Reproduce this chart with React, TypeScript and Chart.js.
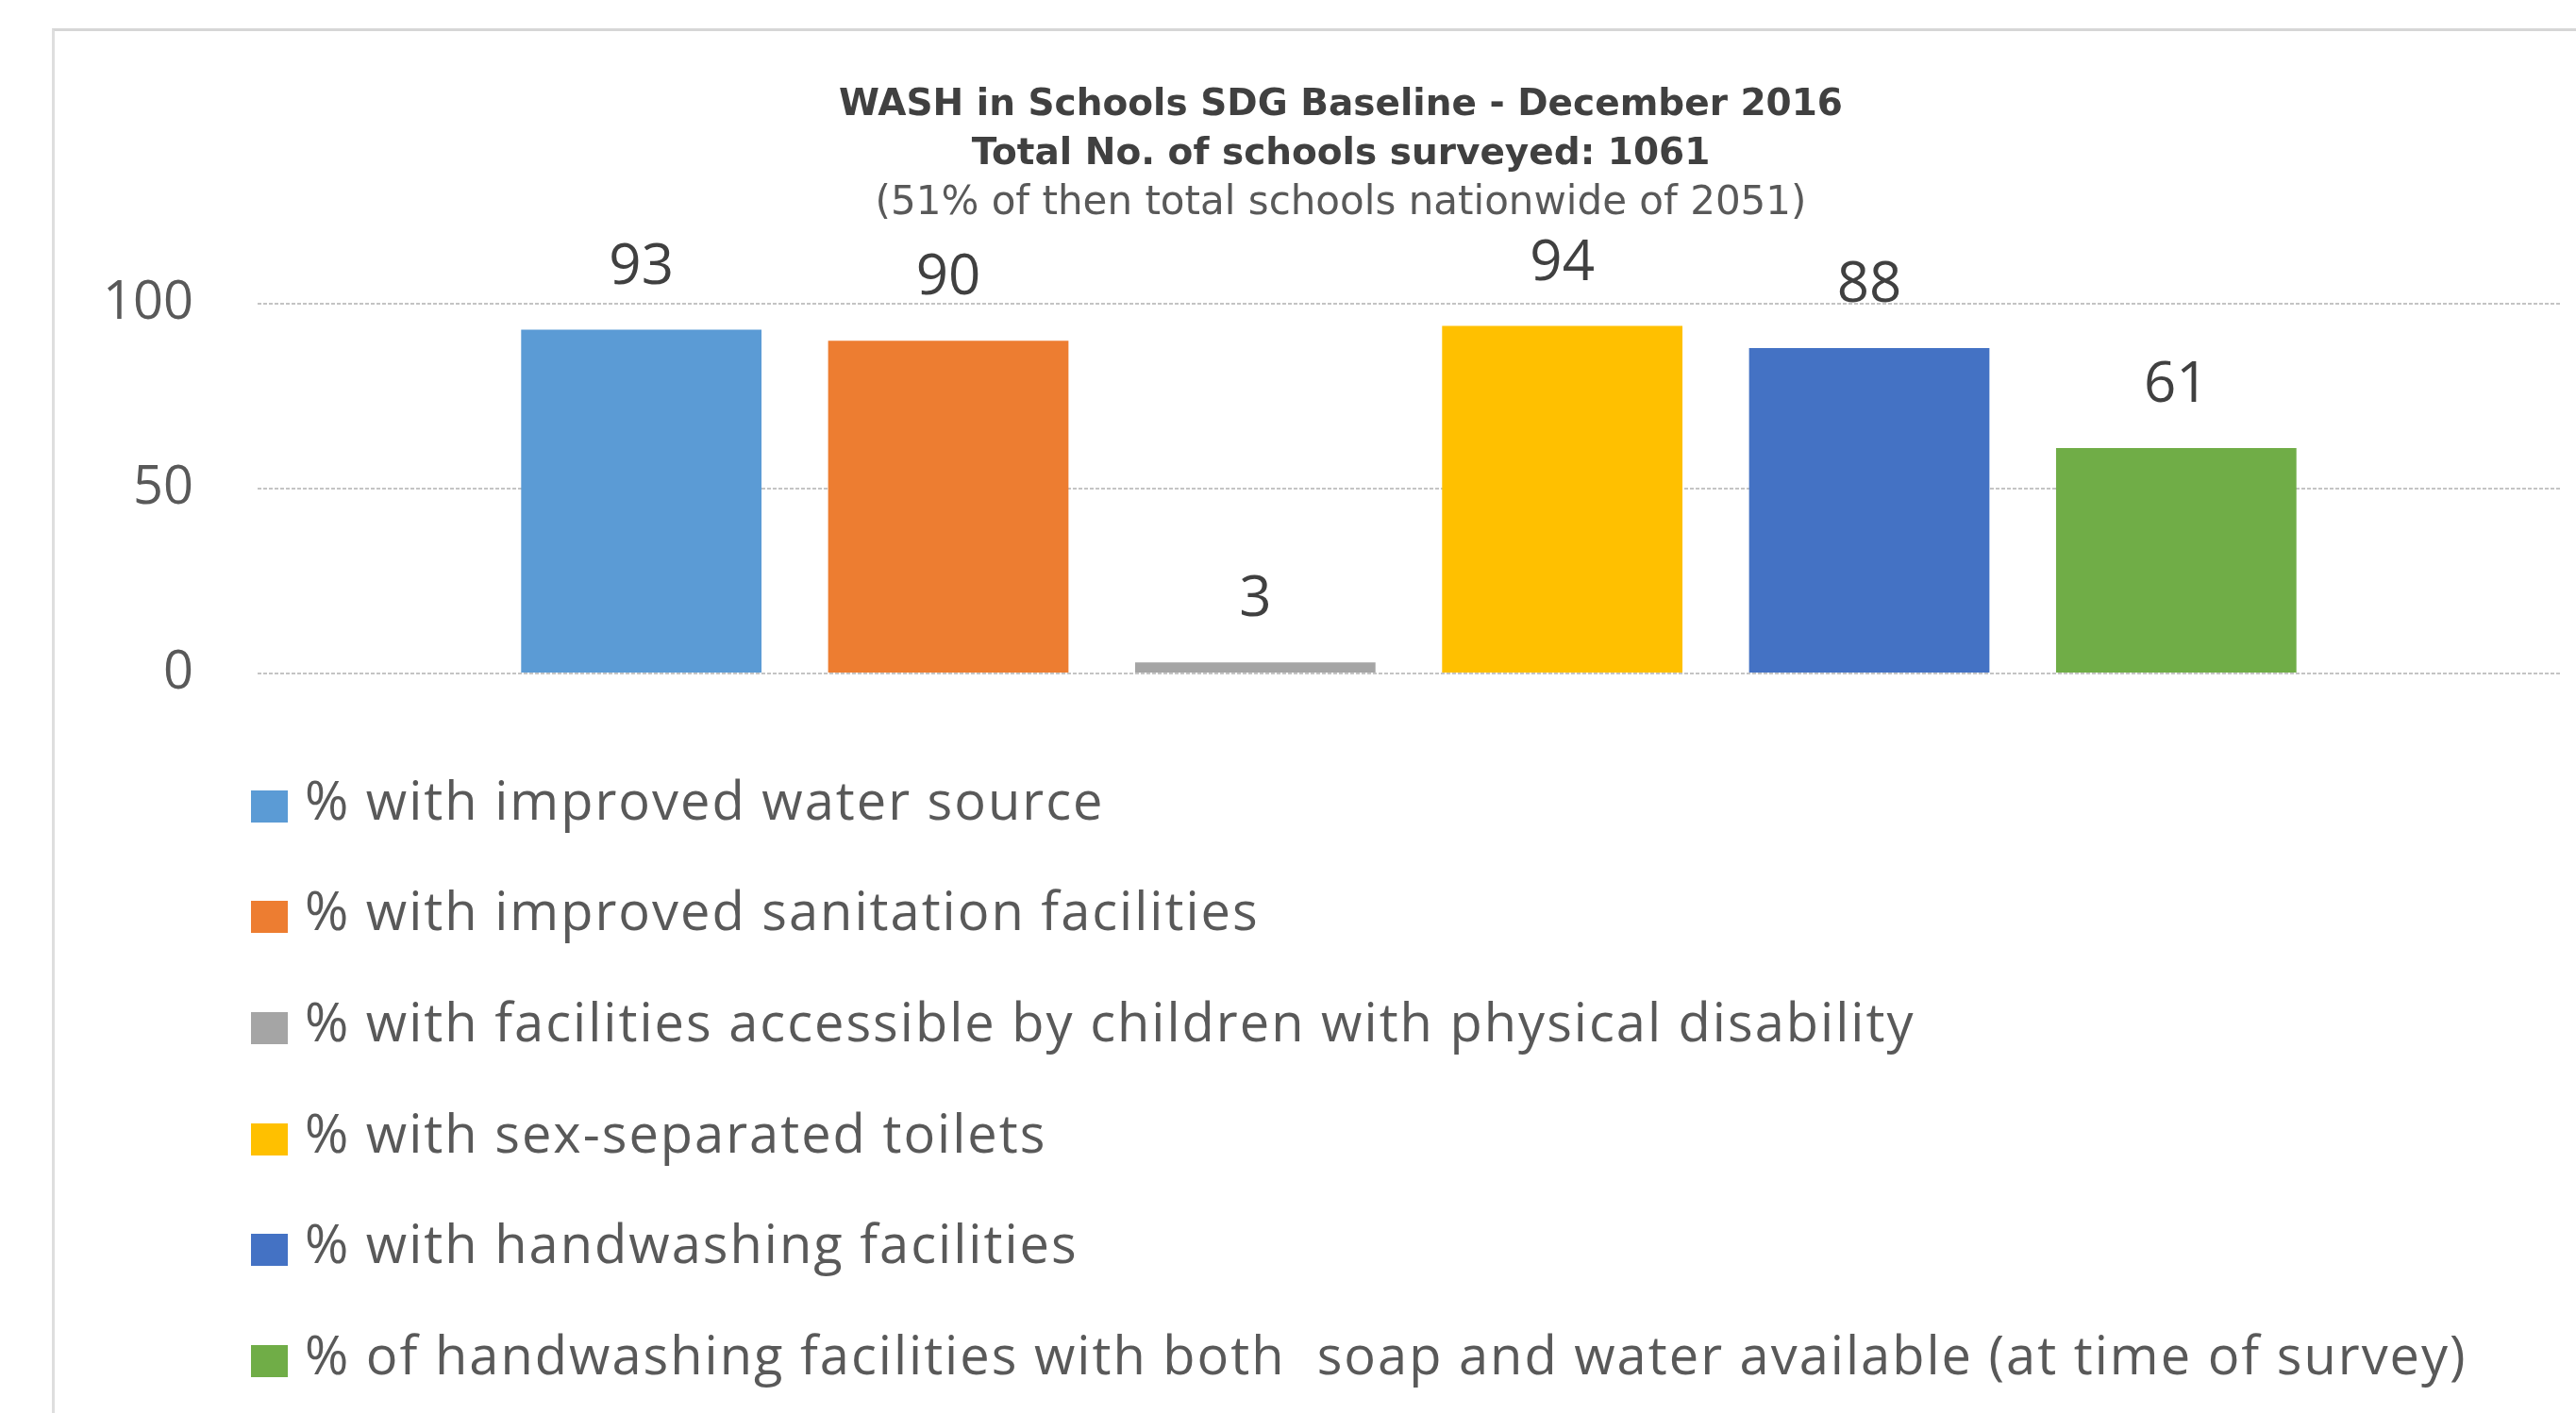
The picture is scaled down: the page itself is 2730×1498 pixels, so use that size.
import React, { useEffect, useRef, useState } from 'react';
import { Chart, registerables } from 'chart.js';

Chart.register(...registerables);

// ---- data ----
const titleLines = ['WASH in Schools SDG Baseline - December 2016', 'Total No. of schools surveyed: 1061'];
const subtitleLine = '(51% of then total schools nationwide of 2051)';
const categories = ['WASH in Schools'];
const seriesLabels = [
  '% with improved water source',
  '% with improved sanitation facilities',
  '% with facilities accessible by children with physical disability',
  '% with sex-separated toilets',
  '% with handwashing facilities',
  '% of handwashing facilities with both  soap and water available (at time of survey)',
];
const seriesValues = [93, 90, 3, 94, 88, 61];
const yTickValues = [0, 50, 100];

// ---- styles ----
const palette = ['#5B9BD5', '#ED7D31', '#A5A5A5', '#FFC000', '#4472C4', '#70AD47'];

const valueLabels = {
  id: 'valueLabels',
  afterDatasetsDraw(chart: any) {
    const { ctx } = chart;
    ctx.save();
    ctx.font = '60px "Open Sans"';
    ctx.fillStyle = '#404040';
    ctx.textAlign = 'center';
    ctx.textBaseline = 'middle';
    chart.data.datasets.forEach((ds: any, i: number) => {
      const meta = chart.getDatasetMeta(i);
      meta.data.forEach((el: any, j: number) => {
        ctx.fillText(String(ds.data[j]), el.x, el.y - 66);
      });
    });
    ctx.restore();
  },
};

type Item = { text: string; color: string };

export default function App() {
  const ref = useRef<HTMLCanvasElement>(null);
  const [items, setItems] = useState<Item[]>([]);

  useEffect(() => {
    if (!ref.current) return;
    const chart = new Chart(ref.current, {
      type: 'bar',
      data: {
        labels: categories,
        datasets: seriesLabels.map((label, i) => ({
          label,
          data: [seriesValues[i]],
          backgroundColor: palette[i],
          borderWidth: 0,
          categoryPercentage: 0.8,
          barPercentage: 0.783,
        })),
      },
      options: {
        responsive: false,
        animation: false,
        devicePixelRatio: 1,
        layout: { padding: { left: 105, right: 0, top: 0, bottom: 66 } },
        plugins: {
          legend: { display: false },
          tooltip: { enabled: false },
          title: {
            display: true,
            text: titleLines,
            color: '#404040',
            font: { family: 'DejaVu Sans', size: 39, weight: 'bold', lineHeight: 52 / 39 },
            padding: { top: 86, bottom: 0 },
          },
          subtitle: {
            display: true,
            text: subtitleLine,
            color: '#595959',
            font: { family: 'DejaVu Sans', size: 42, weight: 'normal', lineHeight: 52 / 42 },
            padding: { top: 0, bottom: 80 },
          },
        },
        scales: {
          x: {
            display: false,
          },
          y: {
            min: 0,
            max: 100,
            afterBuildTicks: (axis: any) => {
              axis.ticks = yTickValues.map((v) => ({ value: v }));
            },
            afterFit: (axis: any) => {
              axis.width = 168;
              axis.paddingTop = 0;
              axis.paddingBottom = 0;
            },
            ticks: {
              padding: 68,
              color: '#595959',
              font: { family: 'Open Sans', size: 56 },
            },
            grid: {
              drawTicks: false,
              color: '#c4c4c4',
              lineWidth: 2,
            },
            border: { display: false, dash: [4, 2] },
          },
          frameRight: {
            type: 'linear',
            position: 'right',
            display: true,
            ticks: { display: false },
            grid: { display: false, drawTicks: false },
            border: { display: false },
            afterFit: (axis: any) => {
              axis.width = 24;
              axis.paddingTop = 0;
              axis.paddingBottom = 0;
            },
          },
        },
      },
      plugins: [valueLabels],
    } as any);

    let legendItems: Item[] = [];
    try {
      const gen = (Chart.defaults.plugins.legend.labels as any).generateLabels;
      legendItems = gen(chart).map((it: any) => ({ text: it.text, color: it.fillStyle }));
    } catch (e) {
      legendItems = chart.data.datasets.map((d: any) => ({ text: d.label, color: d.backgroundColor }));
    }
    setItems(legendItems);
    return () => chart.destroy();
  }, []);

  return (
    <div
      style={{
        position: 'absolute',
        left: 0,
        top: 0,
        width: 2730,
        height: 1498,
        overflow: 'hidden',
        background: '#ffffff',
      }}
    >
      <div
        style={{
          position: 'absolute',
          left: 55,
          top: 30,
          width: 3000,
          height: 2000,
          borderLeft: '3px solid #dedede',
          borderTop: '3px solid #d6d6d6',
        }}
      />
      <canvas
        ref={ref}
        width={2737}
        height={780}
        style={{ position: 'absolute', left: 0, top: 0, width: 2737, height: 780 }}
      />
      <div style={{ position: 'absolute', left: 266, top: 788 }}>
        {items.map((it, i) => (
          <div
            key={i}
            style={{
              height: 117.6,
              display: 'flex',
              alignItems: 'center',
            }}
          >
            <span
              style={{
                display: 'inline-block',
                width: 39,
                height: 34,
                background: it.color,
                position: 'relative',
                top: 8,
                marginRight: 18,
                flex: 'none',
              }}
            />
            <span
              style={{
                fontFamily: '"Open Sans"',
                fontSize: 56,
                letterSpacing: 2.0,
                color: '#595959',
                whiteSpace: 'pre',
              }}
            >
              {it.text}
            </span>
          </div>
        ))}
      </div>
    </div>
  );
}
